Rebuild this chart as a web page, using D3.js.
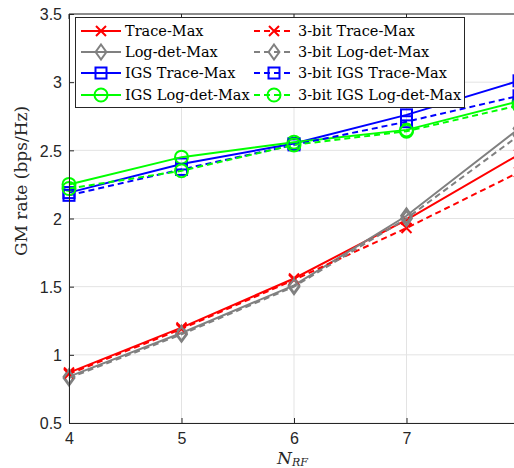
<!DOCTYPE html>
<html><head><meta charset="utf-8">
<script src="https://cdn.jsdelivr.net/npm/d3@7"></script>
<style>body{margin:0;background:#fff;overflow:hidden}svg{display:block}</style>
</head><body>
<svg id="c" width="514" height="468"></svg>
<script>
const xValues = [4, 5, 6, 7, 8];
const xTicks = [4, 5, 6, 7, 8];
const yTicks = [0.5, 1, 1.5, 2, 2.5, 3, 3.5];
const traceMax        = [0.87, 1.20, 1.56, 1.99, 2.47];
const logdetMax       = [0.84, 1.16, 1.51, 2.02, 2.66];
const igsTraceMax     = [2.19, 2.40, 2.55, 2.76, 3.01];
const igsLogdetMax    = [2.25, 2.45, 2.56, 2.65, 2.86];
const bitTraceMax     = [0.86, 1.19, 1.55, 1.93, 2.34];
const bitLogdetMax    = [0.83, 1.15, 1.50, 2.00, 2.61];
const bitIgsTraceMax  = [2.17, 2.36, 2.54, 2.71, 2.90];
const bitIgsLogdetMax = [2.22, 2.35, 2.54, 2.64, 2.83];
const seriesNames = ["Trace-Max","Log-det-Max","IGS Trace-Max","IGS Log-det-Max",
  "3-bit Trace-Max","3-bit Log-det-Max","3-bit IGS Trace-Max","3-bit IGS Log-det-Max"];

const series = [
  {name: seriesNames[0], v: traceMax, color: "#ff0000", marker: "x", dash: false},
  {name: seriesNames[1], v: logdetMax, color: "#808080", marker: "d", dash: false},
  {name: seriesNames[2], v: igsTraceMax, color: "#0000ff", marker: "s", dash: false},
  {name: seriesNames[3], v: igsLogdetMax, color: "#00ff00", marker: "o", dash: false},
  {name: seriesNames[4], v: bitTraceMax, color: "#ff0000", marker: "x", dash: true},
  {name: seriesNames[5], v: bitLogdetMax, color: "#808080", marker: "d", dash: true},
  {name: seriesNames[6], v: bitIgsTraceMax, color: "#0000ff", marker: "s", dash: true},
  {name: seriesNames[7], v: bitIgsLogdetMax, color: "#00ff00", marker: "o", dash: true}
];

const svg = d3.select("#c");
const L = 69, R = 519, T = 14, B = 423;
const x = d3.scaleLinear().domain([4, 8]).range([L, R]);
const y = d3.scaleLinear().domain([0.5, 3.5]).range([B, T]);
const axisColor = "#262626";

// grid
const g = svg.append("g");
g.selectAll(".gx").data(xTicks).enter().append("line")
  .attr("x1", d => x(d)).attr("x2", d => x(d)).attr("y1", T).attr("y2", B)
  .attr("stroke", "#e3e3e3").attr("stroke-width", 1);
g.selectAll(".gy").data(yTicks).enter().append("line")
  .attr("x1", L).attr("x2", R).attr("y1", d => y(d)).attr("y2", d => y(d))
  .attr("stroke", "#e3e3e3").attr("stroke-width", 1);

// data
const line = d3.line().x((d, i) => x(xValues[i])).y(d => y(d));
function marker(sel, type, color) {
  if (type === "x") {
    const s = 5;
    sel.append("path").attr("d", `M${-s},${-s}L${s},${s}M${-s},${s}L${s},${-s}`);
  } else if (type === "d") {
    const s = 7.5;
    sel.append("path").attr("d", `M0,${-s}L${s*0.72},0L0,${s}L${-s*0.72},0Z`);
  } else if (type === "s") {
    sel.append("rect").attr("x", -5.5).attr("y", -5.5).attr("width", 11).attr("height", 11);
  } else {
    sel.append("circle").attr("r", 6.5);
  }
  sel.selectAll("*").attr("fill", "none").attr("stroke", color).attr("stroke-width", 2);
}
const plot = svg.append("g");
series.forEach(s => {
  plot.append("path").attr("d", line(s.v)).attr("fill", "none")
    .attr("stroke", s.color).attr("stroke-width", 2)
    .attr("stroke-dasharray", s.dash ? "6,4" : null);
  s.v.forEach((v, i) => {
    const m = plot.append("g").attr("transform", `translate(${x(xValues[i])},${y(v)})`);
    marker(m, s.marker, s.color);
  });
});

// axes
const ax = svg.append("g");
const xAxis = d3.axisBottom(x).tickValues(xTicks).tickSize(-5).tickPadding(10)
  .tickFormat(d => d < 8 ? d3.format("d")(d) : "");
const yAxis = d3.axisLeft(y).tickValues(yTicks).tickSize(-5).tickPadding(7).tickFormat(d => d3.format("")(d));
const gxA = ax.append("g").attr("transform", `translate(0,${B})`).call(xAxis);
const gyA = ax.append("g").attr("transform", `translate(${L},0)`).call(yAxis);
[gxA, gyA].forEach(a => {
  a.select(".domain").attr("stroke", axisColor).attr("stroke-width", 1);
  a.selectAll(".tick line").attr("stroke", axisColor);
  a.selectAll(".tick text").attr("fill", "#262626").style("font-family", "Liberation Sans, Arial, sans-serif").style("font-size", "16px");
});
gyA.selectAll(".tick text").attr("dy", "0.36em");
// top box line
ax.append("line").attr("x1", L).attr("x2", R).attr("y1", T).attr("y2", T).attr("stroke", axisColor);
ax.selectAll(".tt").data(xTicks).enter().append("line")
  .attr("x1", d => x(d)).attr("x2", d => x(d)).attr("y1", T).attr("y2", T + 5).attr("stroke", axisColor);

// labels
svg.append("text").attr("transform", "translate(27,181) rotate(-90)")
  .attr("text-anchor", "middle").style("font-family", "DejaVu Serif, serif").style("font-size", "17px")
  .attr("fill", "#262626").text("GM rate (bps/Hz)");
const xl = svg.append("text").attr("x", 277).attr("y", 464)
  .style("font-family", "DejaVu Serif, serif").style("font-style", "italic").attr("fill", "#262626");
xl.append("tspan").style("font-size", "17px").text("N");
xl.append("tspan").style("font-size", "11px").attr("dy", 2).text("RF");

// legend
const lg = svg.append("g");
lg.append("rect").attr("x", 75.5).attr("y", 17.5).attr("width", 389).attr("height", 90)
  .attr("fill", "#fff").attr("stroke", axisColor).attr("stroke-width", 1);
const rowY = [31, 52, 73, 95];
const colX = [81, 254];
series.forEach((s, i) => {
  const c = Math.floor(i / 4), r = i % 4;
  const x0 = colX[c], yy = rowY[r];
  lg.append("line").attr("x1", x0).attr("x2", x0 + 40).attr("y1", yy).attr("y2", yy)
    .attr("stroke", s.color).attr("stroke-width", 2).attr("stroke-dasharray", s.dash ? "6,4" : null);
  const m = lg.append("g").attr("transform", `translate(${x0 + 20},${yy})`);
  marker(m, s.marker, s.color);
  lg.append("text").attr("x", x0 + 44).attr("y", yy + 5)
    .style("font-family", "DejaVu Serif, serif").style("font-size", "14.5px").attr("fill", "#000").text(s.name);
});
</script>
</body></html>
